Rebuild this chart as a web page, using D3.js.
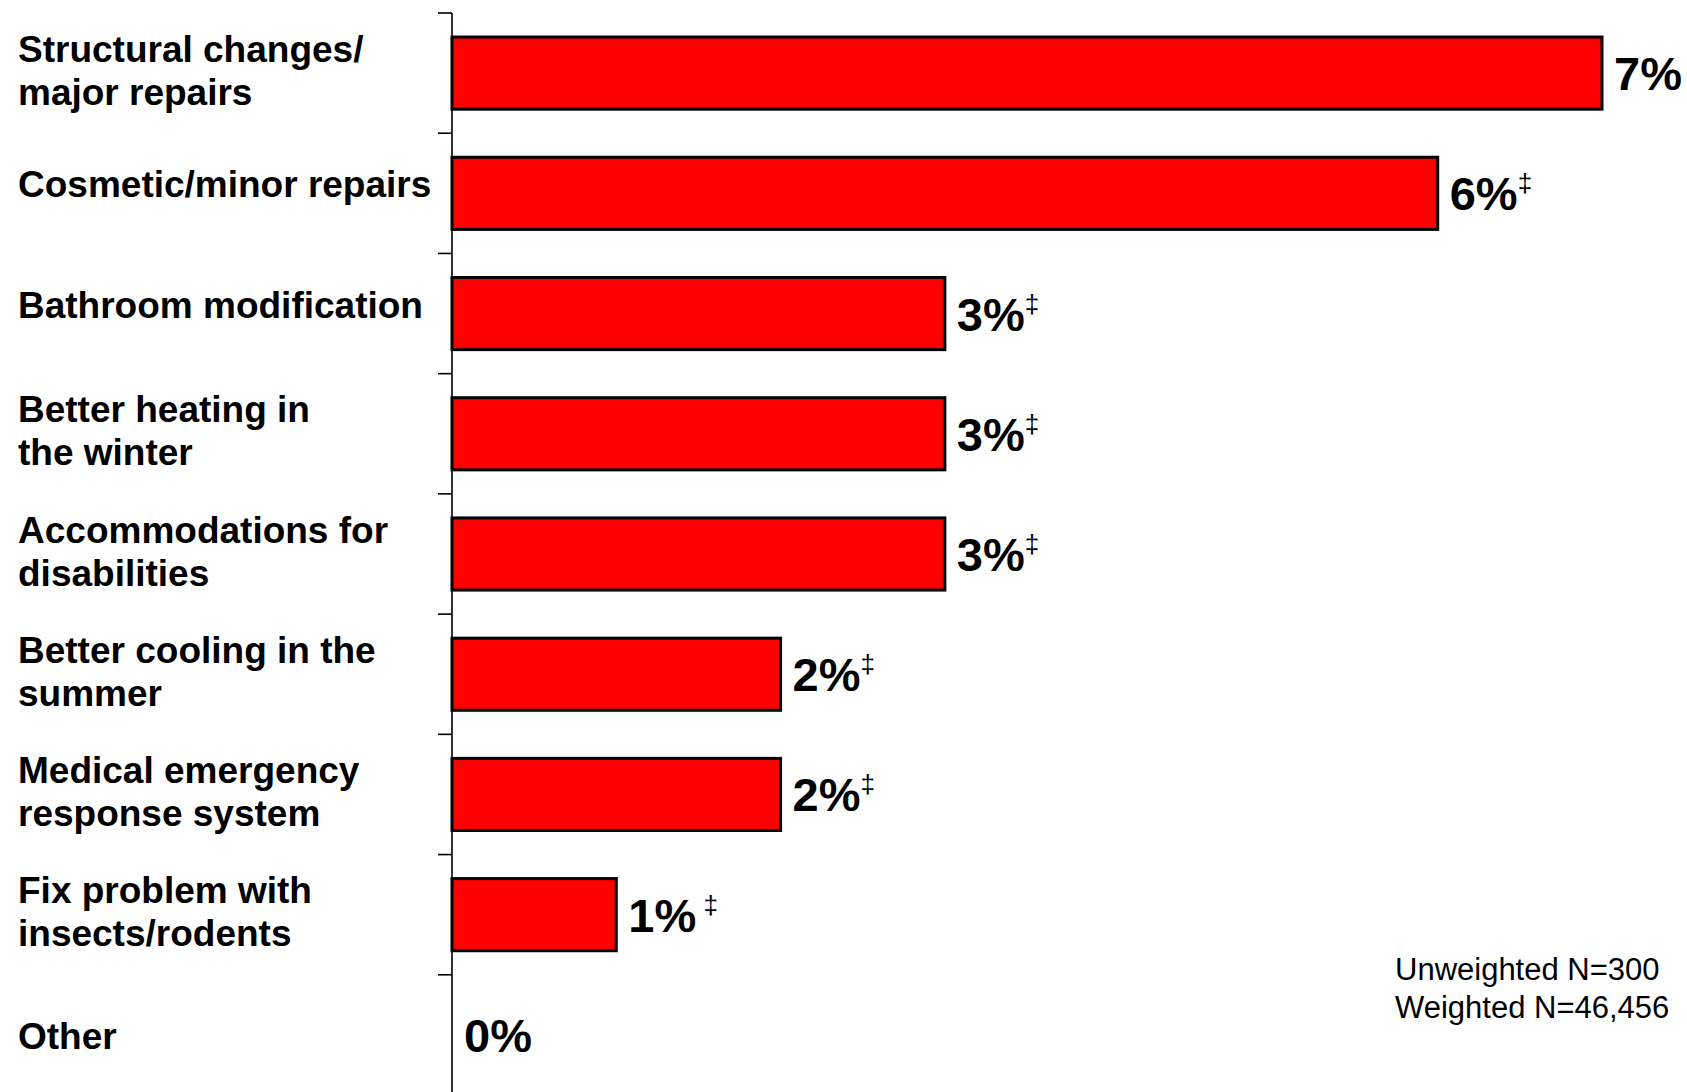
<!DOCTYPE html>
<html>
<head>
<meta charset="utf-8">
<script src="https://cdn.jsdelivr.net/npm/d3@7"></script>
<style>
  html, body { margin: 0; padding: 0; background: #fff; }
  svg { display: block; font-family: "Liberation Sans", Arial, sans-serif; }
</style>
</head>
<body>
<svg id="chart" width="1687" height="1092"></svg>
<script>
// ---- data ----
const categories = [
  "Structural changes/\nmajor repairs",
  "Cosmetic/minor repairs",
  "Bathroom modification",
  "Better heating in\nthe winter",
  "Accommodations for\ndisabilities",
  "Better cooling in the\nsummer",
  "Medical emergency\nresponse system",
  "Fix problem with\ninsects/rodents",
  "Other"
];
const values = [7, 6, 3, 3, 3, 2, 2, 1, 0];
const valueLabels = ["7%", "6%", "3%", "3%", "3%", "2%", "2%", "1%", "0%"];
const marks = ["", "‡", "‡", "‡", "‡", "‡", "‡", " ‡", ""];
const noteLines = ["Unweighted N=300", "Weighted N=46,456"];

// ---- layout ----
const W = 1687, H = 1092;
const axisX = 452;
const svg = d3.select("#chart");

const x = d3.scaleLinear().domain([0, 7]).range([axisX, 1602]);
const y = d3.scaleBand().domain(categories).range([13, 1095]).paddingInner(0.4).paddingOuter(0.2);

const rows = categories.map((c, i) => ({ c, i, v: values[i], lab: valueLabels[i], mark: marks[i] }));

// bars
svg.append("g").selectAll("rect")
  .data(rows.filter(d => d.v > 0))
  .join("rect")
  .attr("x", x(0))
  .attr("y", d => y(d.c))
  .attr("width", d => x(d.v) - x(0))
  .attr("height", y.bandwidth())
  .attr("fill", "#ff0000")
  .attr("stroke", "#000")
  .attr("stroke-width", 3);

// axis: vertical line with ticks at band boundaries
const axisG = svg.append("g");
axisG.append("line")
  .attr("x1", axisX).attr("x2", axisX)
  .attr("y1", 13).attr("y2", H)
  .attr("stroke", "#000").attr("stroke-width", 1.6);
const step = y.step();
const bounds = categories.map(c => y(c) - y.paddingOuter() * step);
axisG.selectAll("line.tick")
  .data(bounds)
  .join("line")
  .attr("class", "tick")
  .attr("x1", axisX - 14).attr("x2", axisX)
  .attr("y1", d => d).attr("y2", d => d)
  .attr("stroke", "#000").attr("stroke-width", 1.6);

// category labels
const lineH = 43;
const labG = svg.append("g");
rows.forEach(d => {
  const lines = d.c.split("\n");
  const cy = y(d.c) + y.bandwidth() / 2;
  const n = lines.length;
  // single-line labels in the upper rows sit slightly above the bar centre
  const off = n === 1 ? (d.v > 0 ? 4 : 14) : 10;
  const t = labG.append("text")
    .attr("x", 18)
    .attr("font-size", 37)
    .attr("font-weight", "bold")
    .attr("fill", "#000");
  lines.forEach((ln, j) => {
    t.append("tspan")
      .attr("x", 18)
      .attr("y", cy + off + (j - (n - 1) / 2) * lineH)
      .text(ln);
  });
});

// value labels
const valG = svg.append("g");
rows.forEach(d => {
  const cy = y(d.c) + y.bandwidth() / 2;
  const t = valG.append("text")
    .attr("x", x(d.v) + 12)
    .attr("y", cy + 17)
    .attr("font-size", 47)
    .attr("font-weight", "bold")
    .attr("fill", "#000");
  t.append("tspan").text(d.lab);
  if (d.mark) {
    t.append("tspan")
      .attr("font-size", 26)
      .attr("font-weight", "normal")
      .attr("dy", -18)
      .style("white-space", "pre")
      .text(d.mark);
  }
});

// note
const note = svg.append("text")
  .attr("font-size", 31)
  .attr("fill", "#000");
noteLines.forEach((ln, i) => {
  note.append("tspan").attr("x", 1395).attr("y", 980 + i * 38).text(ln);
});
</script>
</body>
</html>
